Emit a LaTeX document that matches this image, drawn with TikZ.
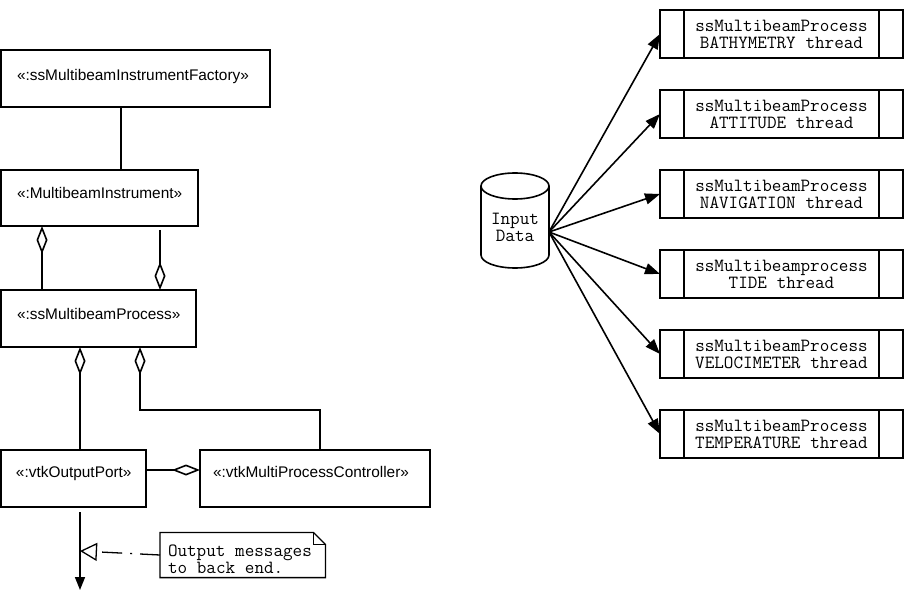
\documentclass[tikz,border=0pt]{standalone}
\usepackage{fontspec}
\setmainfont{Liberation Sans}
\usetikzlibrary{arrows.meta}
\newcommand\monosetup{\ttfamily\fontsize{18.6}{17}\selectfont\spaceskip 9.76pt\relax}
\tikzset{
  agg/.tip={Diamond[open,length=28pt,width=11pt]},
  solidtip/.tip={Triangle[length=15pt,width=11pt]},
}
\begin{document}
\begin{tikzpicture}[x=1pt,y=-1pt,
  every node/.style={inner sep=0pt,outer sep=0pt},
  objbox/.style={draw,line width=1.6pt,minimum height=57pt,anchor=north west},
  objlabel/.style={anchor=base west,font=\fontsize{15.4}{18}\selectfont},
  link/.style={line width=1.6pt},
  monotext/.style={font=\monosetup},
  threadbox/.style={monotext,draw,line width=1.6pt,minimum width=243pt,minimum height=48pt,align=center},
  arr/.style={line width=1.6pt,-{solidtip}},
  noteline/.style={line width=1.3pt},
  notedash/.style={line width=1.3pt,dash pattern=on 20pt off 8pt on 2pt off 8pt},
]
\useasboundingbox (0,0) rectangle (914,591);

% ---------- left: UML objects ----------
\node[objbox,minimum width=269pt] (fac) at (1,50) {};
\node[objlabel] (facl) at (17,80.5) {«:ssMultibeamInstrumentFactory»};
\node[objbox,minimum width=197pt,minimum height=56pt] (mi) at (1,170) {};
\node[objlabel] (mil) at (17,199) {«:MultibeamInstrument»};
\node[objbox,minimum width=195pt] (proc) at (1,290) {};
\node[objlabel] (procl) at (17,319) {«:ssMultibeamProcess»};
\node[objbox,minimum width=145pt] (port) at (1,450) {};
\node[objlabel] (portl) at (16,477.5) {«:vtkOutputPort»};
\node[objbox,minimum width=230pt] (ctrl) at (200,450) {};
\node[objlabel] (ctrll) at (213,477.5) {«:vtkMultiProcessController»};

\draw[link] ([xshift=120]fac.south west) -- ([xshift=120]mi.north west);
\draw[link,{agg}-] ([xshift=41]mi.south west) -- ([xshift=41]proc.north west);
\draw[link,-{agg}] ([xshift=159,yshift=-4]mi.south west) -- ([xshift=159]proc.north west);
\draw[link,{agg}-] ([xshift=79]proc.south west) -- ([xshift=79]port.north west);
\draw[link,{agg}-] ([xshift=139]proc.south west) |- ([xshift=120,yshift=40]ctrl.north west) -- ([xshift=120]ctrl.north west);
\draw[link,-{agg}] ([yshift=8.5]port.east) -- ([yshift=8.5]ctrl.west);
\coordinate (outend) at (80,590);
\draw[link,-{Triangle[length=13pt,width=10pt]}] ([xshift=79,yshift=-5]port.south west) -- (outend);

% note
\node[monotext,align=left,anchor=west,inner xsep=8pt] (note) at (160,559) {Output messages\\to back end.};
\draw[noteline] ([yshift=12.25]note.north west) -- ([xshift=-6.4,yshift=12.25]note.north east) -- ([xshift=5.6,yshift=0.25]note.north east) -- ([xshift=5.6,yshift=-4.25]note.south east) -- ([yshift=-4.25]note.south west) -- cycle;
\draw[noteline] ([xshift=-6.4,yshift=12.25]note.north east) -- ([xshift=-6.4,yshift=0.25]note.north east) -- ([xshift=5.6,yshift=0.25]note.north east);
\coordinate (msgpt) at (80,551);
\draw[notedash,-{Triangle[open,length=17pt,width=18pt]}] ([yshift=4]note.west) -- (msgpt);

% ---------- right: input data and threads ----------
\draw[link] (515,186) ellipse [x radius=34, y radius=13];
\draw[link] (481,186) -- (481,255) .. controls (481,262.2) and (496.2,268) .. (515,268) .. controls (533.8,268) and (549,262.2) .. (549,255) -- (549,186);
\node[monotext,align=center,minimum width=68pt] (data) at (515,227) {Input\\Data};

\node[threadbox] (t1) at (781.5,34) {ssMultibeamProcess\\BATHYMETRY thread};
\node[threadbox] (t2) at (781.5,114) {ssMultibeamProcess\\ATTITUDE thread};
\node[threadbox] (t3) at (781.5,194) {ssMultibeamProcess\\NAVIGATION thread};
\node[threadbox] (t4) at (781.5,274) {ssMultibeamprocess\\TIDE thread};
\node[threadbox] (t5) at (781.5,354) {ssMultibeamProcess\\VELOCIMETER thread};
\node[threadbox] (t6) at (781.5,434) {ssMultibeamProcess\\TEMPERATURE thread};

\foreach \i in {1,...,6} {
  \draw[link] ([xshift=24]t\i.north west) -- ([xshift=24]t\i.south west);
  \draw[link] ([xshift=-24]t\i.north east) -- ([xshift=-24]t\i.south east);
  \draw[arr] ([yshift=-5]data.east) -- (t\i.west);
}
\end{tikzpicture}
\end{document}
